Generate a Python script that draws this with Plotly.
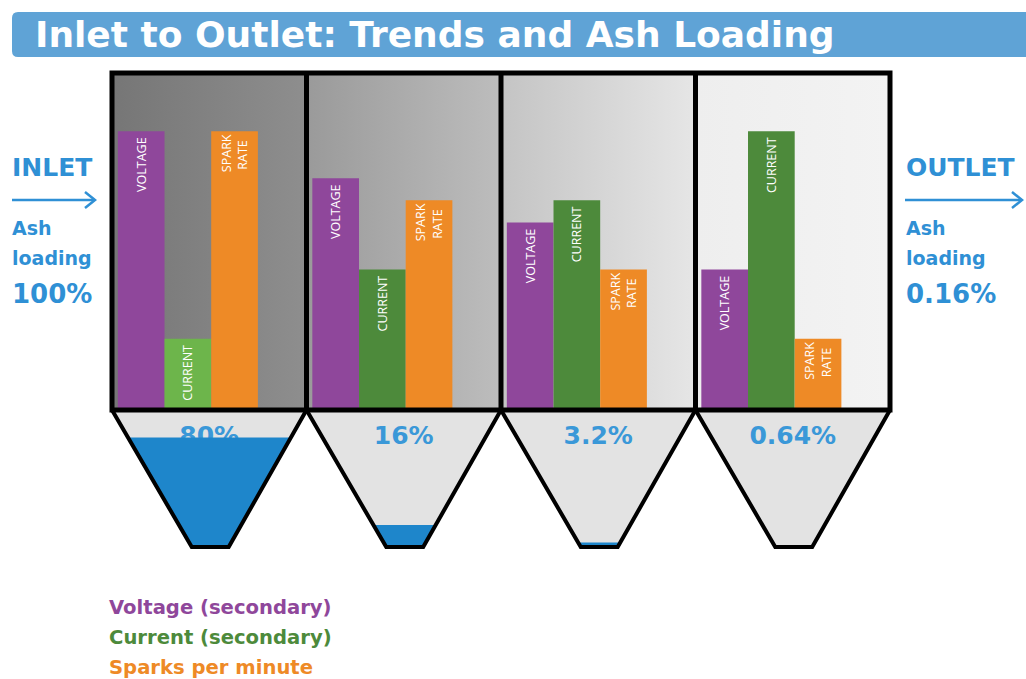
import plotly.graph_objects as go

W, H = 1026, 679

# ---------------- data ----------------
fields = ["Field 1", "Field 2", "Field 3", "Field 4"]
voltage = [100, 83, 67, 50]
current = [25, 50, 75, 100]
spark_rate = [100, 75, 50, 25]
ash_pct = [80, 16, 3.2, 0.64]
inlet_ash = "100%"
outlet_ash = "0.16%"
series_names = ["VOLTAGE", "CURRENT", "SPARK<br>RATE"]
legend_labels = ["Voltage (secondary)", "Current (secondary)", "Sparks per minute"]
title_text = "Inlet to Outlet: Trends and Ash Loading"

# ---------------- style ----------------
PURPLE = "#8f479b"
GREEN = "#4d8a3b"
GREEN_LIGHT = "#6db54b"
ORANGE = "#ee8a26"
BLUE_TXT = "#2f90d5"
BLUE_FILL = "#1e86cb"
BANNER = "#5fa3d6"
field_grad = [("#767676", "#8e8e8e"), ("#9a9a9a", "#bdbdbd"),
              ("#c4c4c4", "#e6e6e6"), ("#eeeeee", "#f3f3f3")]

def px(x):
    return x / W

def py(y):
    return 1 - y / H

BOX_L, BOX_R, BOX_T, BOX_B = 112, 890, 73, 408
HOP_T, HOP_B = 410, 547
YMAX = 121
n = len(fields)
fw = (BOX_R - BOX_L) / n

fig = go.Figure()

# field backgrounds (gradients) on base subplot
for i in range(n):
    c0, c1 = field_grad[i]
    fig.add_trace(go.Scatter(
        x=[i, i + 1, i + 1, i, i], y=[0, 0, YMAX, YMAX, 0],
        fill="toself", mode="none", hoverinfo="skip", showlegend=False,
        fillgradient=dict(type="horizontal", colorscale=[[0, c0], [1, c1]]),
        xaxis="x", yaxis="y"))

# bars on overlay subplot
bw = 0.24
start = 0.03
series = [voltage, current, spark_rate]
colors = [[PURPLE] * n, [GREEN_LIGHT] + [GREEN] * (n - 1), [ORANGE] * n]
for k, vals in enumerate(series):
    fig.add_trace(go.Bar(
        x=[i + start + bw * (k + 0.5) for i in range(n)], y=vals,
        width=bw, marker=dict(color=colors[k], line=dict(width=0)),
        text=[series_names[k] + "\u00a0"] * n, textposition="inside",
        insidetextanchor="end", textangle=-90,
        textfont=dict(color="white", size=12.5, family="Open Sans"),
        showlegend=False, hoverinfo="skip",
        xaxis="x", yaxis="y2"))

# hoppers: gray background
x_lo, x_hi = 0.41, 0.60
for i in range(n):
    fig.add_trace(go.Scatter(
        x=[i, i + 1, i + x_hi, i + x_lo, i], y=[1, 1, 0, 0, 1],
        fill="toself", fillcolor="#e3e3e3", mode="none",
        hoverinfo="skip", showlegend=False, xaxis="x3", yaxis="y3"))

# percent labels (below the ash fill)
fig.add_trace(go.Scatter(
    x=[i + 0.5 for i in range(n)], y=[0.8] * n, mode="text",
    text=[f"<b>{p:g}%</b>" for p in ash_pct],
    textfont=dict(size=25, color="#3a98d8", family="DejaVu Sans"),
    hoverinfo="skip", showlegend=False, xaxis="x3", yaxis="y3"))

# ash fill levels
for i, p in enumerate(ash_pct):
    h = p / 100.0
    xl = i + x_lo * (1 - h)
    xr = i + x_hi + (1 - x_hi) * h
    fig.add_trace(go.Scatter(
        x=[i + x_lo, i + x_hi, xr, xl, i + x_lo], y=[0, 0, h, h, 0],
        fill="toself", fillcolor=BLUE_FILL, mode="none",
        hoverinfo="skip", showlegend=False, xaxis="x3", yaxis="y3"))

shapes = []
# banner with rounded corners
r = 6
bl, br, bt, bb = 12, 1040, 12, 57
shapes.append(dict(type="path", xref="paper", yref="paper",
                   path=(f"M {px(bl + r)} {py(bt)} L {px(br)} {py(bt)} L {px(br)} {py(bb)} "
                         f"L {px(bl + r)} {py(bb)} Q {px(bl)} {py(bb)} {px(bl)} {py(bb - r)} "
                         f"L {px(bl)} {py(bt + r)} Q {px(bl)} {py(bt)} {px(bl + r)} {py(bt)} Z"),
                   fillcolor=BANNER, line=dict(width=0), layer="below"))

# hopper outlines
for i in range(n):
    xl0 = BOX_L + i * fw
    xr0 = BOX_L + (i + 1) * fw
    path = (f"M {px(xl0)} {py(HOP_T)} L {px(xl0 + x_lo * fw)} {py(HOP_B)} "
            f"L {px(xl0 + x_hi * fw)} {py(HOP_B)} L {px(xr0)} {py(HOP_T)}")
    shapes.append(dict(type="path", xref="paper", yref="paper", path=path,
                       line=dict(color="black", width=4), layer="above"))

# box frame and dividers
shapes.append(dict(type="rect", xref="paper", yref="paper",
                   x0=px(BOX_L), x1=px(BOX_R), y0=py(BOX_B + 2), y1=py(BOX_T),
                   line=dict(color="black", width=5), layer="above"))
for i in range(1, n):
    xd = px(BOX_L + i * fw)
    shapes.append(dict(type="line", xref="paper", yref="paper",
                       x0=xd, x1=xd, y0=py(BOX_B + 2), y1=py(BOX_T),
                       line=dict(color="black", width=5), layer="above"))

# arrows (line + open chevron)
for (x0, x1) in [(12, 95), (905, 1022)]:
    yy = 200
    shapes.append(dict(type="line", xref="paper", yref="paper",
                       x0=px(x0), x1=px(x1 - 1), y0=py(yy), y1=py(yy),
                       line=dict(color=BLUE_TXT, width=2.5)))
    shapes.append(dict(type="path", xref="paper", yref="paper",
                       path=(f"M {px(x1 - 10)} {py(yy - 8)} L {px(x1)} {py(yy)} "
                             f"L {px(x1 - 10)} {py(yy + 8)}"),
                       line=dict(color=BLUE_TXT, width=2.5)))

ann = []
def txt(x, y, s, size, color, anchor="left", fam="DejaVu Sans"):
    ann.append(dict(x=px(x), y=py(y), xref="paper", yref="paper", text=s,
                    showarrow=False, xanchor=anchor, yanchor="middle",
                    font=dict(size=size, color=color, family=fam)))

txt(33, 34, f"<b>{title_text}</b>", 36, "white", fam="DejaVu Sans")

# inlet
txt(10, 167, "<b>INLET</b>", 25, BLUE_TXT)
txt(10, 228, "<b>Ash</b>", 19, BLUE_TXT)
txt(10, 258, "<b>loading</b>", 19, BLUE_TXT)
txt(10, 294, f"<b>{inlet_ash}</b>", 26, BLUE_TXT)
# outlet
txt(904, 167, "<b>OUTLET</b>", 25, BLUE_TXT)
txt(904, 228, "<b>Ash</b>", 19, BLUE_TXT)
txt(904, 258, "<b>loading</b>", 19, BLUE_TXT)
txt(904, 294, f"<b>{outlet_ash}</b>", 26, BLUE_TXT)

# legend text
for lab, col, yy in zip(legend_labels, [PURPLE, GREEN, ORANGE], [607, 637, 667]):
    txt(107, yy, f"<b>{lab}</b>", 19.6, col)

ax_off = dict(visible=False, showgrid=False, zeroline=False, fixedrange=True)
fig.update_layout(
    width=W, height=H, margin=dict(l=0, r=0, t=0, b=0),
    paper_bgcolor="white", plot_bgcolor="rgba(0,0,0,0)",
    barmode="overlay", showlegend=False,
    xaxis=dict(domain=[px(BOX_L), px(BOX_R)], range=[0, n], **ax_off),
    yaxis=dict(domain=[py(BOX_B), py(BOX_T)], range=[0, YMAX], **ax_off),
    yaxis2=dict(overlaying="y", anchor="x", range=[0, YMAX], **ax_off),
    xaxis3=dict(domain=[px(BOX_L), px(BOX_R)], range=[0, n], anchor="y3", **ax_off),
    yaxis3=dict(domain=[py(HOP_B), py(HOP_T)], range=[0, 1], anchor="x3", **ax_off),
    shapes=shapes, annotations=ann,
)

fig.write_html("out.html")
